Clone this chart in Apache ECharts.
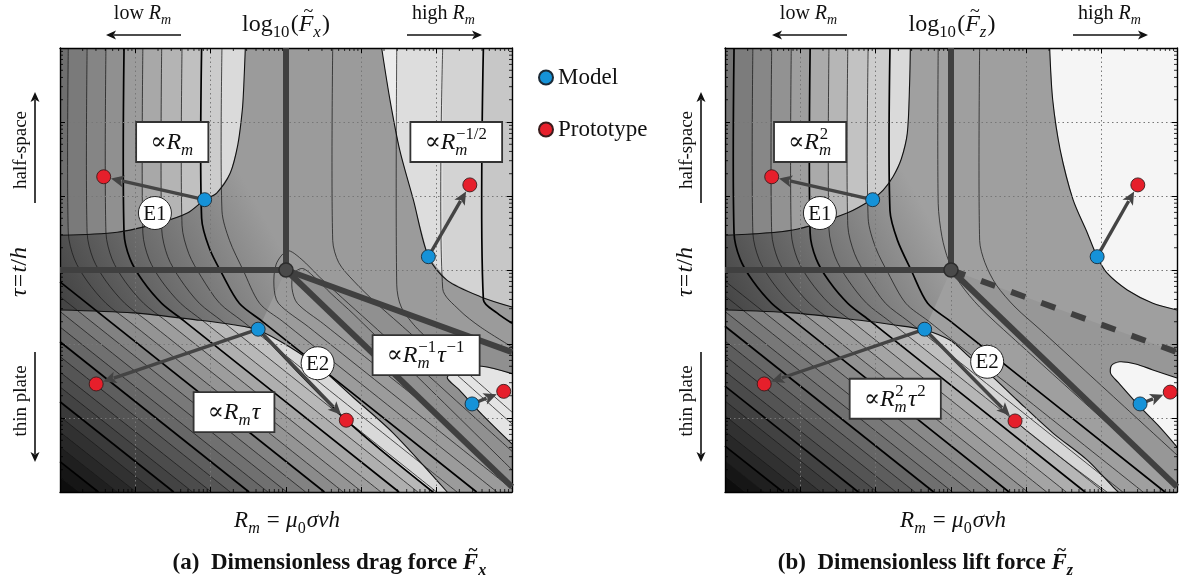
<!DOCTYPE html>
<html lang="en">
<head>
<meta charset="utf-8">
<title>Dimensionless drag and lift force</title>
<script src="https://cdn.jsdelivr.net/npm/echarts@6/dist/echarts.min.js"></script>
<style>
  html, body { margin: 0; padding: 0; background: #ffffff; }
  #chart { width: 1184px; height: 583px; }
</style>
</head>
<body>
<div id="chart"></div>
<script>
// Both panels: x = log10(Rm), y = log10(tau); three decades either side of 1.
const logRmTicks = [-3, -2, -1, 0, 1, 2, 3];
const logTauTicks = [-3, -2, -1, 0, 1, 2, 3];

// ---------------- (a) drag force ----------------
// edges of the zones where a single asymptotic law holds  [log10 Rm, log10 tau]
const dragHalfSpaceEdge = [[-0.54, 3], [-0.56, 2.5], [-0.58, 2.16], [-0.64, 1.69], [-0.74, 1.31], [-0.92, 1.04], [-1.08, 0.95], [-1.31, 0.77], [-1.67, 0.64], [-2.24, 0.51], [-3, 0.47]];
const dragThinPlateEdge = [[-3, -0.54], [-2.03, -0.58], [-1.14, -0.68], [-0.70, -0.74], [-0.37, -0.81], [0.05, -1.04], [0.45, -1.32], [0.89, -1.72], [1.42, -2.20], [2.14, -3]];
const dragE2Edge = [[-0.37, -0.81], [0.80, -2.03], [1.95, -3]];
const dragHighRmEdge = [[1.27, 3], [1.38, 2.30], [1.51, 1.62], [1.69, 0.95], [1.89, 0.18], [2.14, -0.14], [2.58, -0.36], [3, -0.50]];
const dragThinHighRmEdge = [[3, -1.40], [2.6, -1.30], [2.35, -1.33], [2.14, -1.45], [2.3, -1.62], [2.6, -1.95], [3, -2.35]];

// iso-lines of log10(Fx)
const dragSlopeContours = [
  [[-2.89, 3], [-2.89, 0.5], [-2.81, 0.15], [-2.64, -0.15], [-2.39, -0.45], [-2.09, -0.69], [0.76, -3]],
  [[-2.64, 3], [-2.64, 0.5], [-2.56, 0.15], [-2.39, -0.15], [-2.14, -0.45], [-1.84, -0.69], [1.01, -3]],
  [[-2.39, 3], [-2.39, 0.5], [-2.31, 0.15], [-2.14, -0.15], [-1.89, -0.45], [-1.59, -0.69], [1.26, -3]],
  [[-1.90, 3], [-1.90, 0.5], [-1.82, 0.15], [-1.65, -0.15], [-1.40, -0.45], [-1.10, -0.69], [1.75, -3]],
  [[-1.65, 3], [-1.65, 0.55], [-1.57, 0.18], [-1.40, -0.13], [-1.15, -0.45], [-0.85, -0.69], [2.00, -3]],
  [[-1.38, 3], [-1.38, 0.6], [-1.29, 0.22], [-1.12, -0.1], [-0.88, -0.45], [-0.58, -0.69], [2.27, -3]],
  [[-0.85, 3], [-0.85, 0.8], [-0.75, 0.4], [-0.57, 0.0], [-0.35, -0.45], [-0.05, -0.69], [2.80, -3]],
  [[-3, -0.36], [0.26, -3]],
  [[-3, -0.56], [0.01, -3]],
  [[-3, -0.77], [-0.24, -3]],
  [[-3, -1.17], [-0.74, -3]],
  [[-3, -1.38], [-0.99, -3]],
  [[-3, -1.58], [-1.24, -3]],
  [[-3, -1.98], [-1.74, -3]],
  [[-3, -2.19], [-1.99, -3]],
  [[-3, -2.39], [-2.24, -3]],
  [[-3, -2.80], [-2.74, -3]]
];
const dragSlopeMajorContours = [
  [[-2.15, 3], [-2.15, 0.5], [-2.07, 0.15], [-1.90, -0.15], [-1.65, -0.45], [-1.35, -0.69], [1.50, -3]],
  [[-1.12, 3], [-1.12, 0.7], [-1.02, 0.3], [-0.85, -0.05], [-0.62, -0.45], [-0.32, -0.69], [2.53, -3]],
  [[-3, -0.16], [0.51, -3]],
  [[-3, -0.97], [-0.49, -3]],
  [[-3, -1.78], [-1.49, -3]],
  [[-3, -2.59], [-2.49, -3]]
];
const dragRidgeContours = [
  [[3, -2.96], [0.3, -0.77], [-0.10, -0.45], [-0.16, -0.22], [-0.13, 0.08], [0.02, 0.26], [0.2, 0.15], [0.45, -0.1], [0.75, -0.38], [1.1, -0.7], [3, -2.45]],
  [[1.98, -1.93], [0.5, -0.73], [0.15, -0.45], [0.08, -0.25], [0.1, -0.05], [0.22, 0.02], [0.38, -0.1], [0.6, -0.32], [0.9, -0.6], [3, -2.7]]
];
const dragFallContours = [
  [[0.62, 3], [0.62, 0.4], [0.7, 0.1], [0.9, -0.15], [1.2, -0.45], [1.5, -0.72], [3, -2.08]],
  [[1.47, 3], [1.47, -0.2], [1.53, -0.5], [1.75, -0.8], [2.05, -1.07], [3, -1.92]],
  [[2.08, 3], [2.08, -0.25], [2.3, -0.54], [2.58, -0.77], [3, -1.04]]
];
const dragFallMajorContours = [
  [[2.62, 3], [2.62, -0.4], [2.8, -0.58], [3, -0.72]]
];
// regime boundaries (thick)
const dragRegimeLines = [[[0, 3], [0, 0]], [[-3, 0], [0, 0]], [[0, 0], [3, -1.11]], [[0, 0], [3, -2.93]]];
const dragRegimeDashed = [];
// model and prototype operating points
const dragModelPoints = [[-1.08, 0.95], [1.89, 0.18], [-0.37, -0.80], [2.47, -1.81]];
const dragPrototypePoints = [[-2.42, 1.26], [2.44, 1.15], [-2.52, -1.54], [0.80, -2.03], [2.89, -1.64]];
const dragScalingPairs = [[0, 0], [1, 1], [2, 2], [2, 3], [3, 4]];
// asymptotic-law boxes and experiment tags
const dragLawAnchors = [[-1.51, 1.73], [2.26, 1.73], [1.86, -1.15], [-0.69, -1.92]];
const dragLawNames = ['Rm', 'Rm^-1/2', 'Rm^-1 tau^-1', 'Rm tau'];
const dragTagAnchors = [[-1.74, 0.77], [0.42, -1.26]];
const dragTagNames = ['E1', 'E2'];

// ---------------- (b) lift force ----------------
const liftHalfSpaceEdge = [[-0.54, 3], [-0.55, 2.5], [-0.58, 1.85], [-0.66, 1.5], [-0.77, 1.26], [-0.9, 1.08], [-1.04, 0.96], [-1.38, 0.77], [-2.10, 0.54], [-3, 0.47]];
const liftThinPlateEdge = [[-3, -0.54], [-2.10, -0.58], [-1.21, -0.68], [-0.77, -0.74], [-0.35, -0.81], [-0.01, -0.95], [0.25, -1.18], [0.56, -1.45], [0.88, -1.76], [1.35, -2.20], [1.81, -2.57], [2.15, -2.93], [2.22, -3]];
const liftE2Edge = [[-0.35, -0.81], [0.85, -2.04], [2.07, -3]];
const liftHighRmEdge = [[1.31, 3], [1.35, 2.30], [1.45, 1.62], [1.62, 0.95], [1.81, 0.50], [1.94, 0.18], [2.07, -0.04], [2.34, -0.27], [2.68, -0.45], [3, -0.54]];
const liftThinHighRmEdge = [[3, -2.39], [2.75, -2.1], [2.5, -1.84], [2.22, -1.52], [2.12, -1.40], [2.13, -1.29], [2.24, -1.24], [2.45, -1.27], [2.68, -1.35], [3, -1.46]];

const liftSlopeContours = [
  [[-2.63, 3], [-2.63, 0.5], [-2.55, 0.15], [-2.38, -0.15], [-2.13, -0.45], [-1.83, -0.69], [1.02, -3]],
  [[-2.38, 3], [-2.38, 0.5], [-2.30, 0.15], [-2.13, -0.15], [-1.88, -0.45], [-1.58, -0.69], [1.27, -3]],
  [[-2.12, 3], [-2.12, 0.5], [-2.04, 0.15], [-1.87, -0.15], [-1.62, -0.45], [-1.32, -0.69], [1.53, -3]],
  [[-1.62, 3], [-1.62, 0.55], [-1.54, 0.18], [-1.37, -0.13], [-1.12, -0.45], [-0.82, -0.69], [2.03, -3]],
  [[-1.37, 3], [-1.37, 0.6], [-1.28, 0.22], [-1.11, -0.1], [-0.87, -0.45], [-0.57, -0.69], [2.28, -3]],
  [[-1.10, 3], [-1.10, 0.7], [-1.00, 0.3], [-0.83, -0.05], [-0.60, -0.45], [-0.30, -0.69], [2.55, -3]],
  [[-3, -0.15], [0.52, -3]],
  [[-3, -0.35], [0.27, -3]],
  [[-3, -0.56], [0.02, -3]],
  [[-3, -0.96], [-0.48, -3]],
  [[-3, -1.16], [-0.73, -3]],
  [[-3, -1.37], [-0.98, -3]],
  [[-3, -1.77], [-1.48, -3]],
  [[-3, -1.97], [-1.73, -3]],
  [[-3, -2.18], [-1.98, -3]],
  [[-3, -2.58], [-2.48, -3]],
  [[-3, -2.78], [-2.73, -3]]
];
const liftSlopeMajorContours = [
  [[-2.88, 3], [-2.88, 0.5], [-2.80, 0.15], [-2.63, -0.15], [-2.38, -0.45], [-2.08, -0.69], [0.77, -3]],
  [[-1.87, 3], [-1.87, 0.5], [-1.79, 0.15], [-1.62, -0.15], [-1.37, -0.45], [-1.07, -0.69], [1.78, -3]],
  [[-0.81, 3], [-0.81, 0.8], [-0.71, 0.4], [-0.53, 0.0], [-0.31, -0.45], [-0.01, -0.69], [2.84, -3]],
  [[-3, -0.76], [-0.23, -3]],
  [[-3, -1.57], [-1.23, -3]],
  [[-3, -2.38], [-2.23, -3]]
];
const liftRidgeContours = [
  [[-0.17, 3], [-0.17, 0.9], [-0.12, 0.45], [-0.03, 0.12], [0.12, -0.18], [0.38, -0.5], [0.8, -0.9], [2.75, -2.69]]
];
const liftFallContours = [
  [[0.38, 3], [0.38, 0.4], [0.45, 0.1], [0.6, -0.2], [0.85, -0.5], [1.2, -0.82], [3, -2.5]]
];
const liftFallMajorContours = [];
const liftRegimeLines = [[[0, 3], [0, 0]], [[-3, 0], [0, 0]], [[0, 0], [3, -2.93]]];
const liftRegimeDashed = [[[0, 0], [3, -1.11]]];
const liftModelPoints = [[-1.04, 0.95], [1.94, 0.18], [-0.35, -0.80], [2.51, -1.81]];
const liftPrototypePoints = [[-2.38, 1.26], [2.48, 1.15], [-2.48, -1.54], [0.85, -2.04], [2.91, -1.65]];
const liftScalingPairs = [[0, 0], [1, 1], [2, 2], [2, 3], [3, 4]];
const liftLawAnchors = [[-1.87, 1.73], [-0.74, -1.74]];
const liftLawNames = ['Rm^2', 'Rm^2 tau^2'];
const liftTagAnchors = [[-1.74, 0.77], [0.48, -1.24]];
const liftTagNames = ['E1', 'E2'];

// ---------------- typesetting ----------------
const SERIF = '"Liberation Serif", "DejaVu Serif", serif';
const INK = '#111111';
const LAWS = {
  'Rm': [{t: '\u221D'}, {t: 'R', i: 1}, {sub: 'm'}],
  'Rm^-1/2': [{t: '\u221D'}, {t: 'R', i: 1}, {sub: 'm', sup: '\u22121/2'}],
  'Rm^-1 tau^-1': [{t: '\u221D'}, {t: 'R', i: 1}, {sub: 'm', sup: '\u22121'}, {t: '\u03C4', i: 1}, {sup: '\u22121'}],
  'Rm tau': [{t: '\u221D'}, {t: 'R', i: 1}, {sub: 'm'}, {t: '\u03C4', i: 1}],
  'Rm^2': [{t: '\u221D'}, {t: 'R', i: 1}, {sub: 'm', sup: '2'}],
  'Rm^2 tau^2': [{t: '\u221D'}, {t: 'R', i: 1}, {sub: 'm', sup: '2'}, {t: '\u03C4', i: 1}, {sup: '2'}]
};

const measureCtx = document.createElement('canvas').getContext('2d');
function fontOf(size, italic, bold) {
  return (italic ? 'italic ' : '') + (bold ? 'bold ' : '') + size.toFixed(2) + 'px ' + SERIF;
}
function textWidth(text, font) { measureCtx.font = font; return measureCtx.measureText(text).width; }

function layoutMath(tokens, size) {
  const pieces = [];
  let x = 0;
  tokens.forEach(tk => {
    x += (tk.pre || 0) * size;
    if (tk.sub !== undefined || tk.sup !== undefined) {
      const s = size * 0.7;
      let w = 0;
      if (tk.sub !== undefined) {
        const f = fontOf(s, !tk.upright, tk.b);
        pieces.push({text: tk.sub, font: f, x: x, y: size * 0.24, size: s});
        w = Math.max(w, textWidth(tk.sub, f));
      }
      if (tk.sup !== undefined) {
        const f = fontOf(s, false, tk.b);
        pieces.push({text: tk.sup, font: f, x: x + size * 0.03, y: -size * 0.42, size: s});
        w = Math.max(w, textWidth(tk.sup, f) + size * 0.03);
      }
      x += w + size * 0.05;
    } else {
      const f = fontOf(size, tk.i, tk.b);
      const w = textWidth(tk.t, f);
      pieces.push({text: tk.t, font: f, x: x, y: 0, size: size});
      if (tk.tilde) {
        pieces.push({text: '~', font: fontOf(size * 0.75, false, tk.b), x: x + w * 0.55 + size * 0.07, y: -size * 0.6, size: size * 0.75, center: true});
      }
      x += w;
    }
    x += (tk.gap || 0) * size;
  });
  return {pieces: pieces, width: x};
}

// text elements for a formula centred on cx with its baseline at baseY
function mathText(tokens, size, cx, baseY, color) {
  const lay = layoutMath(tokens, size);
  const x0 = cx - lay.width / 2;
  return lay.pieces.map(pc => ({
    type: 'text',
    x: x0 + pc.x,
    y: baseY + pc.y - 0.32 * pc.size,
    silent: true,
    style: {
      text: pc.text, font: pc.font, fill: color || INK,
      align: pc.center ? 'center' : 'left', verticalAlign: 'middle',
      textAlign: pc.center ? 'center' : 'left', textVerticalAlign: 'middle'
    }
  }));
}

// ---------------- helpers for shading ----------------
const X0 = logRmTicks[0], X1 = logRmTicks[logRmTicks.length - 1];
const Y0 = logTauTicks[0], Y1 = logTauTicks[logTauTicks.length - 1];

function stepStops(cuts, colors) {
  const stops = [];
  let prev = 0;
  colors.forEach((c, i) => {
    const end = i < cuts.length ? cuts[i] : 1;
    stops.push({offset: Math.max(0, Math.min(1, prev)), color: c});
    stops.push({offset: Math.max(0, Math.min(1, end)), color: c});
    prev = end;
  });
  return stops;
}
function grey(g) { g = Math.max(0, Math.min(255, Math.round(g))); return 'rgb(' + g + ',' + g + ',' + g + ')'; }

// vertical strips between iso-lines that start on the top edge
function stripFill(api, xFrom, xTo, lines, shades) {
  const p0 = api.coord([xFrom, Y1]), p1 = api.coord([xTo, Y1]);
  const cuts = lines.filter(l => l[0][1] === Y1 && l[0][0] > xFrom && l[0][0] < xTo)
    .map(l => (api.coord([l[0][0], Y1])[0] - p0[0]) / (p1[0] - p0[0]))
    .sort((a, b) => a - b);
  return new echarts.graphic.LinearGradient(p0[0], p0[1], p1[0], p0[1], stepStops(cuts, shades.slice(0, cuts.length + 1)), true);
}

// diagonal bands in the thin-plate zone, stepping at each iso-line
function thinPlateFill(api, lines, anchor, lo, hi) {
  const p0 = api.coord([X0, Y0]);
  const ref = lines[0];
  const a = api.coord(ref[ref.length - 2]), b = api.coord(ref[ref.length - 1]);
  const dx = b[0] - a[0], dy = b[1] - a[1], len = Math.hypot(dx, dy);
  let nx = dy / len, ny = -dx / len;
  if (nx < 0) { nx = -nx; ny = -ny; }
  const proj = q => { const c = api.coord(q); return (c[0] - p0[0]) * nx + (c[1] - p0[1]) * ny; };
  const full = proj(anchor);
  const cuts = lines.map(l => proj(l[l.length - 1]) / full).filter(t => t > 0 && t < 1).sort((x, y) => x - y);
  const bounds = [0].concat(cuts, [1]);
  const colors = [];
  for (let i = 0; i < bounds.length - 1; i++) {
    const t = (bounds[i] + bounds[i + 1]) / 2;
    colors.push(grey(lo + (hi - lo) * t));
  }
  return new echarts.graphic.LinearGradient(p0[0], p0[1], p0[0] + nx * full, p0[1] + ny * full, stepStops(cuts, colors), true);
}

// transition zone: darkest near the left edge just above the crossover, fading to mid grey
function sideFill(api, from, to) {
  const p0 = api.coord([X0, -0.3]), p1 = api.coord([-0.5, 1.1]);
  return new echarts.graphic.LinearGradient(p0[0], p0[1], p1[0], p1[1], [{offset: 0, color: from}, {offset: 1, color: to}], true);
}

// ---------------- panels ----------------
const dragSlopeAll = dragSlopeContours.concat(dragSlopeMajorContours);
const dragFallAll = dragFallContours.concat(dragFallMajorContours);
const liftSlopeAll = liftSlopeContours.concat(liftSlopeMajorContours);

const panels = [
  {
    background: '#9b9b9b',
    regime: dragRegimeLines, dashed: dragRegimeDashed,
    zones: [
      {pts: dragHalfSpaceEdge.slice().reverse().concat([dragRegimeLines[0][0], dragRegimeLines[0][1]], dragThinPlateEdge.slice(0, 5).reverse()),
        shade: api => sideFill(api, '#454545', '#9b9b9b')},
      {pts: [[X0, Y1]].concat(dragHalfSpaceEdge), shade: api => stripFill(api, X0, dragHalfSpaceEdge[0][0], dragSlopeAll,
        ['#6f6f6f', '#7a7a7a', '#858585', '#909090', '#9c9c9c', '#a8a8a8', '#b4b4b4', '#c0c0c0', '#cccccc', '#dadada'])},
      {pts: dragThinPlateEdge.concat([[X0, Y0]]), shade: api => thinPlateFill(api, dragSlopeAll, dragThinPlateEdge[4], 8, 200)},
      {pts: dragThinPlateEdge.slice(4).concat(dragE2Edge.slice().reverse()), fill: '#d9d9d9'},
      {pts: [dragRegimeLines[2][0], dragRegimeLines[2][1], dragRegimeLines[3][1]], fill: '#909090'},
      {pts: dragHighRmEdge.concat([[X1, Y1]]), shade: api => stripFill(api, dragHighRmEdge[0][0], X1, dragFallAll,
        ['#ececec', '#dddddd', '#d3d3d3', '#c7c7c7'])},
      {pts: dragThinHighRmEdge, fill: '#e4e4e4'}
    ],
    edges: [dragHalfSpaceEdge, dragThinPlateEdge, dragHighRmEdge, dragThinHighRmEdge],
    minor: dragSlopeContours.concat(dragRidgeContours, dragFallContours),
    major: dragSlopeMajorContours.concat(dragFallMajorContours, [dragE2Edge]),
    model: dragModelPoints, proto: dragPrototypePoints, pairs: dragScalingPairs,
    laws: dragLawAnchors.map((a, i) => ({at: a, name: dragLawNames[i]})),
    tags: dragTagAnchors.map((a, i) => ({at: a, name: dragTagNames[i]}))
  },
  {
    background: '#9f9f9f',
    regime: liftRegimeLines, dashed: liftRegimeDashed,
    zones: [
      {pts: liftHalfSpaceEdge.slice().reverse().concat([liftRegimeLines[0][0], liftRegimeLines[0][1]], liftThinPlateEdge.slice(0, 5).reverse()),
        shade: api => sideFill(api, '#474747', '#a0a0a0')},
      {pts: [[X0, Y1]].concat(liftHalfSpaceEdge), shade: api => stripFill(api, X0, liftHalfSpaceEdge[0][0], liftSlopeAll,
        ['#747474', '#7c7c7c', '#878787', '#929292', '#9e9e9e', '#aaaaaa', '#b6b6b6', '#c2c2c2', '#cdcdcd', '#dadada'])},
      {pts: liftThinPlateEdge.concat([[X0, Y0]]), shade: api => thinPlateFill(api, liftSlopeAll, liftThinPlateEdge[4], 8, 198)},
      {pts: liftThinPlateEdge.slice(4).concat(liftE2Edge.slice().reverse()), fill: '#d6d6d6'},
      {pts: [liftRegimeDashed[0][0], liftRegimeDashed[0][1], liftRegimeLines[2][1]], fill: '#979797'},
      {pts: liftHighRmEdge.concat([[X1, Y1]]), fill: '#f5f5f5'},
      {pts: liftThinHighRmEdge, fill: '#f5f5f5'}
    ],
    edges: [liftHalfSpaceEdge, liftThinPlateEdge, liftHighRmEdge, liftThinHighRmEdge],
    minor: liftSlopeContours.concat(liftRidgeContours, liftFallContours, [liftE2Edge]),
    major: liftSlopeMajorContours.concat(liftFallMajorContours),
    model: liftModelPoints, proto: liftPrototypePoints, pairs: liftScalingPairs,
    laws: liftLawAnchors.map((a, i) => ({at: a, name: liftLawNames[i]})),
    tags: liftTagAnchors.map((a, i) => ({at: a, name: liftTagNames[i]}))
  }
];

const GRIDS = [
  {left: 60, top: 48, width: 452, height: 444},
  {left: 725, top: 48, width: 452, height: 444}
];

function customSeries(p, name, z, items, render) {
  return {
    type: 'custom', name: name, z: z, silent: true, clip: false,
    xAxisIndex: 2 * p, yAxisIndex: 2 * p,
    data: items.map(() => [0, 0]),
    renderItem: (params, api) => render(items[params.dataIndex], api)
  };
}

function polyline(pts, api, stroke, width, smooth, dash) {
  return {
    type: 'polyline',
    shape: {points: pts.map(q => api.coord(q)), smooth: smooth || 0},
    style: {stroke: stroke, lineWidth: width, fill: null, lineDash: dash || null, lineCap: 'butt', lineJoin: 'round'}
  };
}

function panelSeries(p) {
  const P = panels[p];
  const out = [];

  // shaded zones
  out.push(customSeries(p, 'zones', 1, P.zones, (zn, api) => ({
    type: 'polygon',
    shape: {points: zn.pts.map(q => api.coord(q))},
    style: {fill: zn.shade ? zn.shade(api) : zn.fill, stroke: null}
  })));

  // iso-lines
  const isoItems = P.minor.map(l => ({pts: l, w: 0.75, c: '#1a1a1a'}))
    .concat(P.major.map(l => ({pts: l, w: 1.7, c: '#000000'})))
    .concat(P.edges.map(l => ({pts: l, w: 1.1, c: '#111111'})));
  out.push(customSeries(p, 'isolines', 2, isoItems, (it, api) => polyline(it.pts, api, it.c, it.w, 0.3)));

  // logarithmic minor ticks on all four sides
  out.push(customSeries(p, 'ticks', 4, [0], (it, api) => {
    const children = [];
    const bl = api.coord([X0, Y0]), tr = api.coord([X1, Y1]);
    for (let d = X0; d < X1; d++) {
      for (let k = 2; k <= 9; k++) {
        const x = api.coord([d + Math.log10(k), Y0])[0];
        children.push({type: 'line', shape: {x1: x, y1: bl[1], x2: x, y2: bl[1] - 3}, style: {stroke: '#000', lineWidth: 0.8}});
        children.push({type: 'line', shape: {x1: x, y1: tr[1], x2: x, y2: tr[1] + 3}, style: {stroke: '#000', lineWidth: 0.8}});
      }
    }
    for (let d = Y0; d < Y1; d++) {
      for (let k = 2; k <= 9; k++) {
        const y = api.coord([X0, d + Math.log10(k)])[1];
        children.push({type: 'line', shape: {x1: bl[0], y1: y, x2: bl[0] + 3, y2: y}, style: {stroke: '#000', lineWidth: 0.8}});
        children.push({type: 'line', shape: {x1: tr[0], y1: y, x2: tr[0] - 3, y2: y}, style: {stroke: '#000', lineWidth: 0.8}});
      }
    }
    return {type: 'group', children: children};
  }));

  // regime boundaries
  const regimeItems = P.regime.map(l => ({pts: l, dash: null})).concat(P.dashed.map(l => ({pts: l, dash: [15, 17]})));
  out.push(customSeries(p, 'regimes', 5, regimeItems, (it, api) => polyline(it.pts, api, '#404040', 6, 0, it.dash)));
  out.push(customSeries(p, 'crossover', 5.5, [P.regime[0][1]], (pt, api) => {
    const c = api.coord(pt);
    return {type: 'circle', shape: {cx: c[0], cy: c[1], r: 7}, style: {fill: '#4a4a4a', stroke: '#2c2c2c', lineWidth: 1.5}};
  }));

  // scaling arrows from model to prototype
  const arrowItems = P.pairs.map(pr => ({from: P.model[pr[0]], to: P.proto[pr[1]]}));
  out.push(customSeries(p, 'scaling', 6, arrowItems, (it, api) => {
    const a = api.coord(it.from), b = api.coord(it.to);
    const dx = b[0] - a[0], dy = b[1] - a[1], L = Math.hypot(dx, dy);
    const ux = dx / L, uy = dy / L, px = -uy, py = ux;
    const sx = a[0] + ux * 6, sy = a[1] + uy * 6;
    const tx = b[0] - ux * 7.5, ty = b[1] - uy * 7.5;
    const head = 13, half = 6;
    const bx = tx - ux * head, by = ty - uy * head;
    return {type: 'group', children: [
      {type: 'line', shape: {x1: sx, y1: sy, x2: bx + ux * 2, y2: by + uy * 2}, style: {stroke: '#444444', lineWidth: 3.4}},
      {type: 'polygon', shape: {points: [[tx, ty], [bx + px * half, by + py * half], [bx + ux * 3, by + uy * 3], [bx - px * half, by - py * half]]},
        style: {fill: '#444444'}}
    ]};
  }));

  // operating points
  out.push({
    type: 'scatter', name: 'Model', xAxisIndex: 2 * p, yAxisIndex: 2 * p, z: 7,
    symbol: 'circle', symbolSize: 14, data: P.model, silent: true,
    itemStyle: {color: '#1592d8', borderColor: '#1c2a36', borderWidth: 0.9, opacity: 1}
  });
  out.push({
    type: 'scatter', name: 'Prototype', xAxisIndex: 2 * p, yAxisIndex: 2 * p, z: 7,
    symbol: 'circle', symbolSize: 14, data: P.proto, silent: true,
    itemStyle: {color: '#e61f2b', borderColor: '#3a1c1c', borderWidth: 0.9, opacity: 1}
  });

  // boxes naming the asymptotic laws
  out.push(customSeries(p, 'laws', 8, P.laws, (it, api) => {
    const c = api.coord(it.at);
    const size = 24;
    const lay = layoutMath(LAWS[it.name], size);
    const w = lay.width + 28, h = 40;
    return {type: 'group', children: [
      {type: 'rect', shape: {x: c[0] - w / 2, y: c[1] - h / 2, width: w, height: h}, style: {fill: '#ffffff', stroke: '#333333', lineWidth: 1.8}}
    ].concat(mathText(LAWS[it.name], size, c[0], c[1] + 0.3 * size + 1))};
  }));
  out.push(customSeries(p, 'tags', 8, P.tags, (it, api) => {
    const c = api.coord(it.at);
    return {type: 'group', children: [
      {type: 'circle', shape: {cx: c[0], cy: c[1], r: 16.5}, style: {fill: '#ffffff', stroke: '#222222', lineWidth: 1}},
      {type: 'text', x: c[0], y: c[1] + 1, style: {text: it.name, font: fontOf(21, false, false), fill: INK,
        align: 'center', verticalAlign: 'middle', textAlign: 'center', textVerticalAlign: 'middle'}}
    ]};
  }));
  return out;
}

function axisPair(p, dim) {
  const base = {
    type: 'value', gridIndex: p, min: dim === 'x' ? X0 : Y0, max: dim === 'x' ? X1 : Y1, interval: 1, z: 3,
    axisLabel: {show: false},
    axisLine: {show: true, onZero: false, lineStyle: {color: '#000000', width: 1.4}},
    axisTick: {show: true, inside: true, length: 5, lineStyle: {color: '#000000', width: 1}},
    minorTick: {show: false}
  };
  const first = Object.assign({}, base, {position: dim === 'x' ? 'bottom' : 'left',
    splitLine: {show: true, lineStyle: {color: '#777777', width: 1, type: [1.5, 3]}}});
  const second = Object.assign({}, base, {position: dim === 'x' ? 'top' : 'right', splitLine: {show: false}});
  return [first, second];
}

// ---------------- page text ----------------
function arrowShapes(x1, y1, x2, y2) {
  const dx = x2 - x1, dy = y2 - y1, L = Math.hypot(dx, dy);
  const ux = dx / L, uy = dy / L, px = -uy, py = ux;
  const head = 10, half = 4.5;
  const bx = x2 - ux * head, by = y2 - uy * head;
  return [
    {type: 'line', shape: {x1: x1, y1: y1, x2: bx + ux * 2, y2: by + uy * 2}, style: {stroke: INK, lineWidth: 1.6}, silent: true},
    {type: 'polygon', shape: {points: [[x2, y2], [bx + px * half, by + py * half], [bx + ux * 2.5, by + uy * 2.5], [bx - px * half, by - py * half]]},
      style: {fill: INK}, silent: true}
  ];
}
function rotated(tokens, size, cx, cy) {
  return {type: 'group', x: cx, y: cy, rotation: Math.PI / 2, silent: true, children: mathText(tokens, size, 0, 0.3 * size)};
}

const lowRm = [{t: 'low '}, {t: 'R', i: 1}, {sub: 'm'}];
const highRm = [{t: 'high '}, {t: 'R', i: 1}, {sub: 'm'}];
const tauLabel = [{t: '\u03C4', i: 1, gap: 0.05}, {t: '=', gap: 0.05}, {t: 't', i: 1}, {t: '/'}, {t: 'h', i: 1}];
const rmLabel = [{t: 'R', i: 1}, {sub: 'm'}, {t: '=', pre: 0.25, gap: 0.28}, {t: '\u03BC', i: 1}, {sub: '0', upright: 1}, {t: '\u03C3vh', i: 1}];
const titleTokens = c => [{t: 'log'}, {sub: '10', upright: 1}, {t: '('}, {t: 'F', i: 1, tilde: 1}, {sub: c}, {t: ')'}];
const captionTokens = (tag, text, c) => [{t: tag, b: 1, gap: 0.5}, {t: text + ' ', b: 1}, {t: 'F', i: 1, b: 1, tilde: 1}, {sub: c, b: 1}];

function panelText(dx, title, caption, captionX) {
  let els = [];
  els = els.concat(mathText(lowRm, 20, 143 + dx, 20));
  els = els.concat(arrowShapes(181 + dx, 35, 106 + dx, 35));
  els = els.concat(mathText(title, 24, 286 + dx, 32));
  els = els.concat(mathText(highRm, 20, 444 + dx, 20));
  els = els.concat(arrowShapes(407 + dx, 35, 482 + dx, 35));
  els.push(rotated([{t: 'half-space'}], 19, 21 + dx, 150));
  els = els.concat(arrowShapes(35 + dx, 203, 35 + dx, 92));
  els.push(rotated(tauLabel, 24, 20 + dx, 272));
  els.push(rotated([{t: 'thin plate'}], 19, 21 + dx, 401));
  els = els.concat(arrowShapes(35 + dx, 352, 35 + dx, 462));
  els = els.concat(mathText(rmLabel, 23, 287 + dx, 528));
  els = els.concat(mathText(caption, 23, captionX, 570));
  return els;
}

const graphicElements = panelText(0, titleTokens('x'), captionTokens('(a)', 'Dimensionless drag force', 'x'), 330)
  .concat(panelText(666, titleTokens('z'), captionTokens('(b)', 'Dimensionless lift force', 'z'), 926));

// ---------------- chart ----------------
const chart = echarts.init(document.getElementById('chart'), null, {renderer: 'canvas'});
const xAxes = axisPair(0, 'x').concat(axisPair(1, 'x'));
const yAxes = axisPair(0, 'y').concat(axisPair(1, 'y'));

chart.setOption({
  animation: false,
  backgroundColor: '#ffffff',
  grid: GRIDS.map((g, i) => Object.assign({show: true, backgroundColor: panels[i].background, borderWidth: 0}, g)),
  xAxis: xAxes,
  yAxis: yAxes,
  legend: {
    data: ['Model', 'Prototype'], orient: 'vertical', left: 533, top: 61,
    itemWidth: 14, itemHeight: 14, itemGap: 29, selectedMode: false,
    textStyle: {fontFamily: SERIF, fontSize: 23, color: INK}
  },
  tooltip: {show: false},
  series: panelSeries(0).concat(panelSeries(1)),
  graphic: {elements: graphicElements}
});
</script>
</body>
</html>
